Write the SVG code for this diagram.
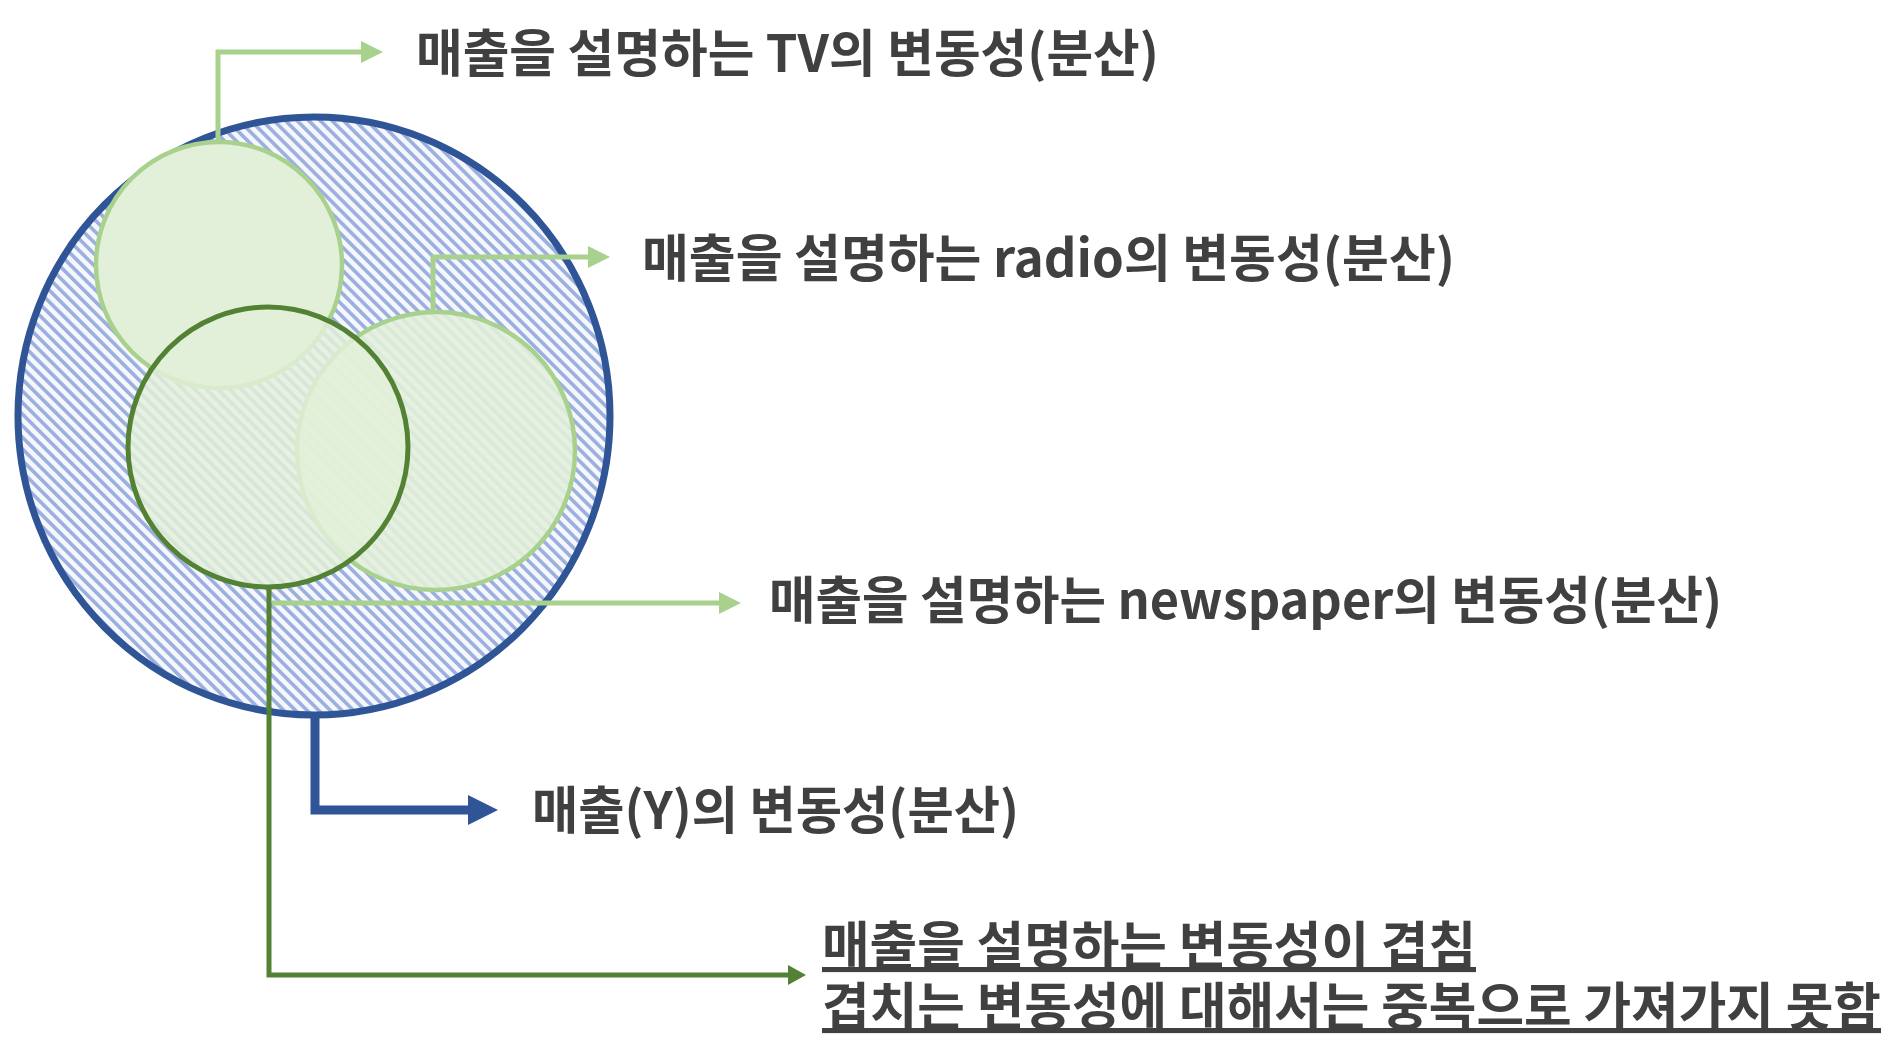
<svg xmlns="http://www.w3.org/2000/svg" width="1883" height="1060" viewBox="0 0 1883 1060">
  <style>
    .lbl { font-family: "Noto Sans CJK KR", "Noto Sans", "Liberation Sans", sans-serif; font-size: 51px; font-weight: bold; fill: #404040; }
    .ul { text-decoration: underline; }
    .cl { fill: none; stroke-linejoin: miter; }
    .lg { stroke: #a9d18e; stroke-width: 5; }
    .bl { stroke: #2f5597; stroke-width: 9; }
    .dg { stroke: #548235; stroke-width: 5; }
  </style>
  <defs>
    <pattern id="hatch" patternUnits="userSpaceOnUse" width="8.2" height="8.2" patternTransform="rotate(-45)">
      <rect x="0" y="0" width="8.2" height="8.2" fill="#f5f7fc"/>
      <rect x="0" y="0" width="3.6" height="8.2" fill="#9bb0df"/>
    </pattern>
    <marker id="arrLG" markerUnits="userSpaceOnUse" viewBox="0 0 22 22" markerWidth="22" markerHeight="22" refX="12" refY="11" orient="auto">
      <path d="M0,0 L22,11 L0,22 Z" fill="#a9d18e"/>
    </marker>
    <marker id="arrBL" markerUnits="userSpaceOnUse" viewBox="0 0 30 30" markerWidth="30" markerHeight="30" refX="18" refY="15" orient="auto">
      <path d="M0,0 L30,15 L0,30 Z" fill="#2f5597"/>
    </marker>
    <marker id="arrDG" markerUnits="userSpaceOnUse" viewBox="0 0 18 20" markerWidth="18" markerHeight="20" refX="10" refY="10" orient="auto">
      <path d="M0,0 L18,10 L0,20 Z" fill="#548235"/>
    </marker>
  </defs>
  <rect x="0" y="0" width="1883" height="1060" fill="#ffffff"/>

  <g id="sales-variance">
    <ellipse cx="314" cy="416" rx="296" ry="299" fill="url(#hatch)" stroke="#2f5597" stroke-width="7"/>
  </g>
  <g id="tv-variance">
    <circle cx="219" cy="265" r="123" fill="#e2f0d9" stroke="#a9d18e" stroke-width="4.5"/>
  </g>
  <g id="radio-variance">
    <circle cx="436" cy="451" r="139" fill="#e2f0d9" fill-opacity="0.88" stroke="#a9d18e" stroke-width="4.5"/>
  </g>
  <g id="newspaper-variance">
    <circle cx="268" cy="447" r="140" fill="#e2f0d9" fill-opacity="0.84" stroke="#548235" stroke-width="5"/>
  </g>

  <g id="connectors">
    <polyline class="cl lg" points="218,142 218,52 373,52" marker-end="url(#arrLG)"/>
    <polyline class="cl lg" points="433,312 433,257 600,257" marker-end="url(#arrLG)"/>
    <polyline class="cl lg" points="272,603 731,603" marker-end="url(#arrLG)"/>
    <polyline class="cl bl" points="315,714 315,810 486,810" marker-end="url(#arrBL)"/>
    <polyline class="cl dg" points="269,587 269,975 798,975" marker-end="url(#arrDG)"/>
  </g>

  <g id="label-tv">
    <text class="lbl" x="416" y="72" textLength="743" lengthAdjust="spacingAndGlyphs">매출을 설명하는 TV의 변동성(분산)</text>
  </g>
  <g id="label-radio">
    <text class="lbl" x="642" y="277" textLength="813" lengthAdjust="spacingAndGlyphs">매출을 설명하는 radio의 변동성(분산)</text>
  </g>
  <g id="label-newspaper">
    <text class="lbl" x="769" y="619" textLength="953" lengthAdjust="spacingAndGlyphs">매출을 설명하는 newspaper의 변동성(분산)</text>
  </g>
  <g id="label-sales">
    <text class="lbl" x="532" y="829" textLength="487" lengthAdjust="spacingAndGlyphs">매출(Y)의 변동성(분산)</text>
  </g>
  <g id="label-overlap">
    <text class="lbl ul"><tspan x="822" y="964" textLength="654" lengthAdjust="spacingAndGlyphs">매출을 설명하는 변동성이 겹침</tspan><tspan x="822" y="1025" textLength="1059" lengthAdjust="spacingAndGlyphs">겹치는 변동성에 대해서는 중복으로 가져가지 못함</tspan></text>
  </g>
</svg>
